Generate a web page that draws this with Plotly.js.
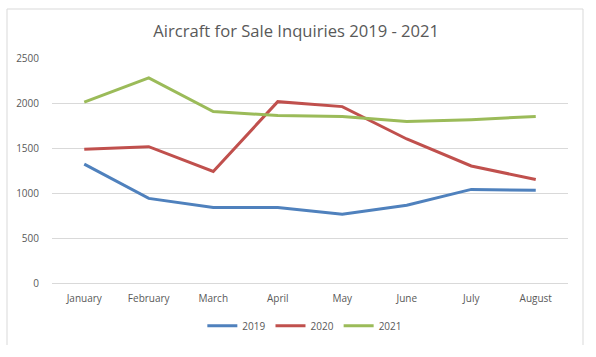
<!DOCTYPE html>
<html><head><meta charset="utf-8">
<script src="https://cdn.plot.ly/plotly-3.0.1.min.js"></script>
<style>html,body{margin:0;padding:0;background:#fff}#chart{width:596px;height:357px}</style>
</head><body><div id="chart"></div>
<script>
var months = ["January","February","March","April","May","June","July","August"];
var values2019 = [1320, 940, 840, 840, 765, 865, 1040, 1030];
var values2020 = [1485, 1515, 1240, 2015, 1960, 1600, 1300, 1150];
var values2021 = [2010, 2280, 1905, 1860, 1850, 1795, 1815, 1850];
var seriesNames = ["2019","2020","2021"];
var colors = ["#4F81BD","#C0504D","#9BBB59"];
var yTicks = [0, 500, 1000, 1500, 2000, 2500];

var all = [values2019, values2020, values2021];
var traces = all.map(function(v, i){
  return {x: months, y: v, name: seriesNames[i], type: "scatter", mode: "lines",
    line: {color: colors[i], width: 3}};
});
var font = "Open Sans, Liberation Sans, sans-serif";
var layout = {
  width: 596, height: 357,
  margin: {l: 52, r: 28, t: 58, b: 74},
  paper_bgcolor: "#fff", plot_bgcolor: "#fff",
  title: {text: "Aircraft for Sale Inquiries 2019 - 2021", x: 0.497, xanchor: "center", y: 0.913, yanchor: "middle",
    font: {family: font, size: 16.6, color: "#595959"}},
  xaxis: {type: "category", showgrid: false, zeroline: false, showline: false, ticks: "",
    ticklabelstandoff: 8,
    tickfont: {family: font, size: 10, color: "#595959"}, range: [-0.5, 7.5]},
  yaxis: {range: [0, 2500], tickvals: yTicks, showgrid: true, gridcolor: "#D9D9D9", gridwidth: 1,
    zeroline: true, zerolinecolor: "#D9D9D9", zerolinewidth: 1, showline: false, ticks: "", ticklabelstandoff: 12,
    tickfont: {family: font, size: 10, color: "#595959"}},
  showlegend: true,
  legend: {orientation: "h", x: 0.49, xanchor: "center", y: -0.19, yanchor: "middle",
    font: {family: font, size: 10, color: "#595959"}, itemwidth: 30, tracegroupgap: 0}
};
var W = 596 - 52 - 28, H = 357 - 58 - 74;
function px(x){ return (x - 52) / W; }
function py(y){ return (357 - 74 - y) / H; }
layout.shapes = [
  {type: "line", xref: "paper", yref: "paper", x0: px(7), x1: px(7), y0: py(9), y1: py(345), line: {color: "#D9D9D9", width: 1}},
  {type: "line", xref: "paper", yref: "paper", x0: px(7), x1: px(583), y0: py(9), y1: py(9), line: {color: "#D9D9D9", width: 1}},
  {type: "line", xref: "paper", yref: "paper", x0: px(583), x1: px(583), y0: py(9), y1: py(345), line: {color: "#D9D9D9", width: 1}}
];
Plotly.newPlot("chart", traces, layout, {displayModeBar: false, staticPlot: true});
</script></body></html>
